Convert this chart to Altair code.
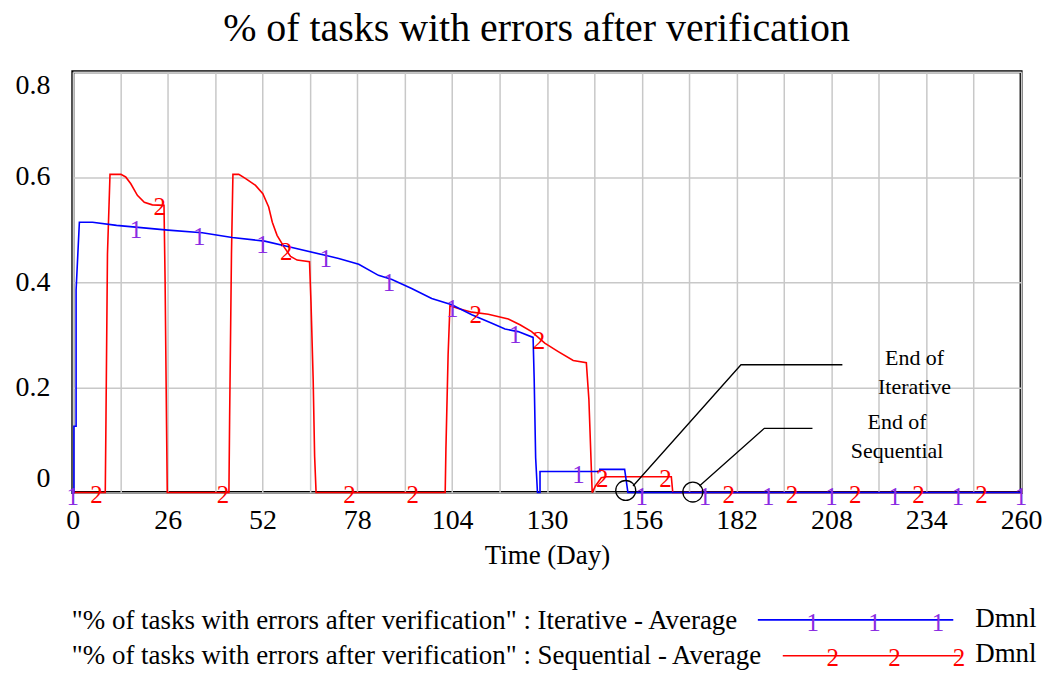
import altair as alt
import pandas as pd

FONT = "Liberation Serif"

# ---------------- data ----------------
title_text = "% of tasks with errors after verification"
x_title = "Time (Day)"
legend_labels = ['"% of tasks with errors after verification" : Iterative - Average',
                 '"% of tasks with errors after verification" : Sequential - Average']
unit_label = "Dmnl"
marker_glyphs = ["1", "2"]
x_ticks = [0, 13, 26, 39, 52, 65, 78, 91, 104, 117, 130, 143, 156, 169, 182,
           195, 208, 221, 234, 247, 260]
y_ticks = [0, 0.2, 0.4, 0.6, 0.8]

iter_days = [0, 0.3, 0.3, 0.9, 0.9, 1.8, 5.4, 12.0, 26.1, 35.5, 43.7, 52.6, 60.1,
             69.2, 72.9, 78.4, 83.8, 87.5, 92.9, 98.4, 103.9, 109.4, 114.9, 118.5,
             122.1, 126.2, 126.5, 126.9, 127.4, 128.1, 128.1, 144.5, 144.5, 151.3,
             152.2, 260]
iter_vals = [0, 0, 0.126, 0.126, 0.385, 0.514, 0.514, 0.508, 0.499, 0.494, 0.485,
             0.478, 0.466, 0.451, 0.445, 0.434, 0.413, 0.405, 0.388, 0.369, 0.357,
             0.338, 0.322, 0.311, 0.306, 0.295, 0.215, 0.066, 0, 0, 0.040, 0.040,
             0.044, 0.044, 0, 0]

seq_days = [0, 8.9, 9.1, 9.5, 10.2, 13.2, 14.5, 15.9, 17.7, 19.6, 21.8, 25.0, 25.3,
            25.7, 25.9, 42.8, 43.0, 43.5, 43.9, 45.5, 47.4, 50.1, 52.1, 53.7, 54.7,
            56.0, 57.9, 59.7, 61.5, 64.9, 65.3, 65.9, 66.3, 66.7, 102.1, 102.3,
            102.9, 103.4, 105.7, 109.4, 113.9, 119.4, 122.6, 125.8, 129.4, 133.1,
            137.2, 140.8, 141.5, 142.4, 143.3, 144.9, 146.3, 164.1, 164.5, 260]
seq_vals = [0, 0, 0.145, 0.453, 0.605, 0.605, 0.600, 0.587, 0.565, 0.552, 0.547,
            0.546, 0.404, 0.129, 0, 0, 0.145, 0.453, 0.605, 0.605, 0.597, 0.584,
            0.568, 0.543, 0.514, 0.489, 0.467, 0.449, 0.442, 0.439, 0.363, 0.215,
            0.069, 0, 0, 0.083, 0.262, 0.355, 0.350, 0.343, 0.339, 0.330, 0.319,
            0.306, 0.284, 0.268, 0.251, 0.247, 0.177, 0, 0.0125, 0.028, 0.030,
            0.030, 0, 0]

iter_mk_days = [0, 17.33, 34.67, 52, 69.33, 86.67, 104, 121.33, 138.67, 156,
                173.33, 190.67, 208, 225.33, 242.67, 260]
iter_mk_vals = [0, 0.507, 0.494, 0.479, 0.451, 0.406, 0.357, 0.307, 0.040, 0, 0,
                0, 0, 0, 0, 0]
seq_mk_days = [6.5, 23.83, 41.17, 58.5, 75.83, 93.17, 110.5, 127.83, 145.17,
               162.5, 179.83, 197.17, 214.5, 231.83, 249.17]
seq_mk_vals = [0, 0.546, 0, 0.462, 0, 0, 0.342, 0.292, 0.029, 0.030, 0, 0, 0, 0, 0]

# annotations ("End of ...")
ann_circle_days = [151.6, 170.0]
ann_circle_vals = [0.004, 0.001]
ann_line_ids = [0, 0, 0, 1, 1, 1]
ann_line_days = [153.6, 183.2, 211.0, 171.8, 189.6, 202.8]
ann_line_vals = [0.0125, 0.243, 0.243, 0.0125, 0.122, 0.122]
ann_text = ["End of", "Iterative", "End of", "Sequential"]
ann_text_days = [230.8, 230.8, 226.0, 226.0]
ann_text_vals = [0.242, 0.188, 0.121, 0.066]

# ---------------- build ----------------
W, H = 951, 422
BLUE, RED, VIOLET = "#0000ff", "#ff0000", "#8a2be2"

x_enc = alt.X("day:Q",
              scale=alt.Scale(domain=[0, 260], nice=False, zero=False),
              axis=alt.Axis(values=x_ticks, format="d",
                            labelExpr="datum.value % 26 === 0 ? datum.label : ''",
                            title=x_title, grid=True, gridColor="#c8c8c8",
                            gridWidth=1.5, ticks=False, tickSize=0, domain=False,
                            labelFlush=False, labelFont=FONT, labelFontSize=28,
                            labelColor="black", labelPadding=14,
                            titleFont=FONT, titleFontSize=27,
                            titleFontWeight="normal", titleColor="black",
                            titlePadding=8))
y_enc = alt.Y("val:Q",
              scale=alt.Scale(domain=[0, 0.8], nice=False, zero=False),
              axis=alt.Axis(values=y_ticks, format="~g", title=None, grid=True,
                            gridColor="#c8c8c8", gridWidth=1.5, ticks=False,
                            tickSize=0, domain=False, labelFlush=True,
                            labelFont=FONT, labelFontSize=28, labelColor="black",
                            labelPadding=23))

df_iter = pd.DataFrame({"day": iter_days, "val": iter_vals,
                        "idx": range(len(iter_days))})
df_seq = pd.DataFrame({"day": seq_days, "val": seq_vals,
                       "idx": range(len(seq_days))})

line_seq = alt.Chart(df_seq).mark_line(color=RED, strokeWidth=1.6).encode(
    x=x_enc, y=y_enc, order="idx:Q")
line_iter = alt.Chart(df_iter).mark_line(color=BLUE, strokeWidth=1.6).encode(
    x=x_enc, y=y_enc, order="idx:Q")

df_mk_iter = pd.DataFrame({"day": iter_mk_days, "val": iter_mk_vals,
                           "g": marker_glyphs[0]})
df_mk_seq = pd.DataFrame({"day": seq_mk_days, "val": seq_mk_vals,
                          "g": marker_glyphs[1]})
mk_iter = alt.Chart(df_mk_iter).mark_text(
    font=FONT, fontSize=25, color=VIOLET, baseline="middle", dy=4).encode(
    x=x_enc, y=y_enc, text="g:N")
mk_seq = alt.Chart(df_mk_seq).mark_text(
    font=FONT, fontSize=25, color=RED, baseline="middle", dy=2).encode(
    x=x_enc, y=y_enc, text="g:N")

df_circ = pd.DataFrame({"day": ann_circle_days, "val": ann_circle_vals})
circles = alt.Chart(df_circ).mark_point(
    shape="circle", filled=False, size=400, color="black", strokeWidth=1.3,
    opacity=1).encode(x=x_enc, y=y_enc)

df_al = pd.DataFrame({"day": ann_line_days, "val": ann_line_vals,
                      "id": ann_line_ids, "idx": range(len(ann_line_days))})
ann_lines = alt.Chart(df_al).mark_line(color="black", strokeWidth=1.3).encode(
    x=x_enc, y=y_enc, detail="id:N", order="idx:Q")

df_at = pd.DataFrame({"day": ann_text_days, "val": ann_text_vals, "t": ann_text})
ann_texts = alt.Chart(df_at).mark_text(
    font=FONT, fontSize=22, color="black", baseline="alphabetic",
    align="center").encode(x=x_enc, y=y_enc, text="t:N")

# title as text
title = alt.Chart(pd.DataFrame({"t": [title_text]})).mark_text(
    font=FONT, fontSize=40, color="black", align="center",
    baseline="alphabetic").encode(x=alt.value(465), y=alt.value(-31), text="t:N")

# custom legend below the chart
legend_layers = []
leg_y = [559, 594]
leg_rule = [(687, 883, 549.7), (712, 890, 585.7)]
leg_marks = [[742, 804, 867.7], [762, 824, 888.7]]
leg_colors = [BLUE, RED]
leg_mk_colors = [VIOLET, RED]
leg_dy = [3, 2]
for i in range(2):
    legend_layers.append(
        alt.Chart(pd.DataFrame({"t": [legend_labels[i]]})).mark_text(
            font=FONT, fontSize=27, color="black", align="left",
            baseline="alphabetic").encode(x=alt.value(-1), y=alt.value(leg_y[i]),
                                          text="t:N"))
    x0, x1, yy = leg_rule[i]
    legend_layers.append(
        alt.Chart(pd.DataFrame({"a": [0]})).mark_rule(
            color=leg_colors[i], strokeWidth=1.6).encode(
            x=alt.value(x0), x2=alt.value(x1), y=alt.value(yy)))
    for mx in leg_marks[i]:
        legend_layers.append(
            alt.Chart(pd.DataFrame({"g": [marker_glyphs[i]]})).mark_text(
                font=FONT, fontSize=25, color=leg_mk_colors[i], baseline="middle",
                dy=leg_dy[i]).encode(x=alt.value(mx), y=alt.value(yy), text="g:N"))
    legend_layers.append(
        alt.Chart(pd.DataFrame({"t": [unit_label]})).mark_text(
            font=FONT, fontSize=27, color="black", align="left",
            baseline="alphabetic").encode(x=alt.value(905), y=alt.value(leg_y[i] - 2),
                                          text="t:N"))

chart = alt.layer(
    line_seq, line_iter, mk_seq, mk_iter, circles, ann_lines, ann_texts, title,
    *legend_layers
).properties(
    width=W, height=H,
    padding={"left": 65, "top": 63, "right": 30, "bottom": 178},
    autosize=alt.AutoSizeParams(type="none"),
    background="white",
).configure_view(stroke="black", strokeWidth=3)

chart.save("out.html", embed_options={"renderer": "svg", "actions": False})
